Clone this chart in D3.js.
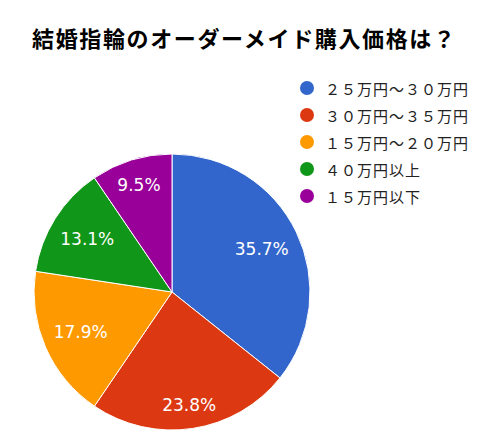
<!doctype html>
<html>
  <head>
    <meta charset="utf-8">
    <script src="https://d3js.org/d3.v7.min.js"></script>
    <style>
      body { margin: 0; background: #fff; }
      svg { display: block; }
    </style>
  </head>
  <body>
    <svg id="chart" width="500" height="447"></svg>
    <script>
      // chart data
      var titleText = "結婚指輪のオーダーメイド購入価格は？";
      var categories = ["２５万円～３０万円", "３０万円～３５万円", "１５万円～２０万円", "４０万円以上", "１５万円以下"];
      var shares = [35.7, 23.8, 17.9, 13.1, 9.5];
      var colors = ["#3366cc", "#dc3912", "#ff9900", "#109618", "#990099"];

      var svg = d3.select("#chart");
      var cx = 172, cy = 292, R = 138;

      /* title */
      svg.append("text")
        .attr("x", 32)
        .attr("y", 47)
        .attr("textLength", 423)
        .attr("lengthAdjust", "spacing")
        .style("font-family", "'Noto Sans CJK JP', sans-serif")
        .style("font-weight", "bold")
        .style("font-size", "22px")
        .style("fill", "#000")
        .text(titleText);

      /* pie */
      var pie = d3.pie().sort(null).value(function(d) { return d; });
      var arc = d3.arc().innerRadius(0).outerRadius(R);
      var arcs = pie(shares);

      var g = svg.append("g").attr("transform", "translate(" + cx + "," + cy + ")");

      g.selectAll("path.slice").data(arcs)
        .enter()
        .append("path")
          .attr("class", "slice")
          .attr("d", arc)
          .style("fill", function(d, i) { return colors[i]; })
          .style("stroke", "#fff")
          .style("stroke-width", 1);

      /* labels: pushed out as far as the text box allows */
      var labels = g.selectAll("text.lbl").data(arcs)
        .enter()
        .append("text")
          .attr("class", "lbl")
          .attr("text-anchor", "middle")
          .attr("dominant-baseline", "central")
          .style("font-family", "'DejaVu Sans', sans-serif")
          .style("font-size", "17px")
          .style("fill", "#fff")
          .text(function(d) { return d.value.toFixed(1) + "%"; });

      labels.each(function(d) {
        var bb = this.getBBox();
        var a = (d.startAngle + d.endAngle) / 2;
        var sx = Math.sin(a), sy = -Math.cos(a);
        var proj = Math.abs(sx) * bb.width / 2 + Math.abs(sy) * bb.height / 2;
        var dist = R * 0.93 - proj;
        d3.select(this).attr("x", sx * dist).attr("y", sy * dist);
      });

      /* legend */
      var legend = svg.append("g").attr("transform", "translate(307,88)");
      var item = legend.selectAll("g").data(categories)
        .enter()
        .append("g")
          .attr("transform", function(d, i) { return "translate(0," + (i * 27) + ")"; });

      item.append("circle")
        .attr("r", 7)
        .style("fill", function(d, i) { return colors[i]; });

      item.append("text")
        .attr("x", 18)
        .attr("dominant-baseline", "central")
        .style("font-family", "'Noto Sans CJK JP', sans-serif")
        .style("font-size", "15px")
        .style("letter-spacing", "1px")
        .style("fill", "#222")
        .text(function(d) { return d; });
    </script>
  </body>
</html>
